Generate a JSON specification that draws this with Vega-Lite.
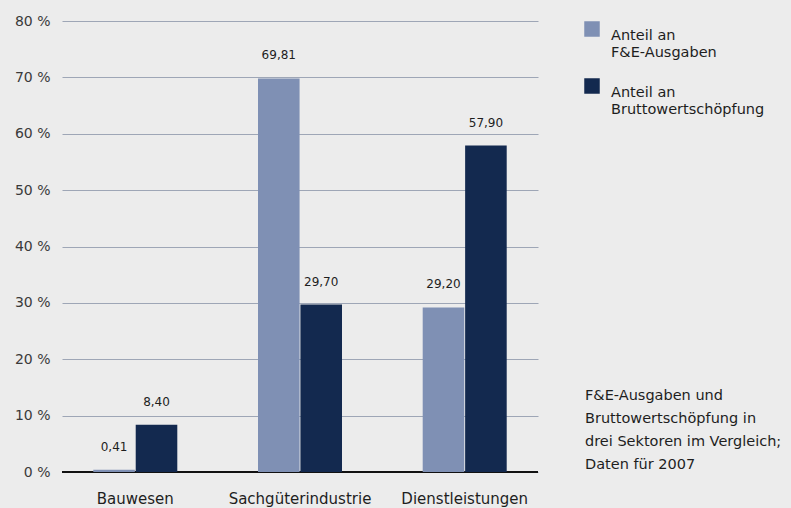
{
  "$schema": "https://vega.github.io/schema/vega-lite/v6.json",
  "width": 476,
  "height": 451,
  "autosize": {"type": "none"},
  "padding": {"left": 62, "top": 21, "right": 253, "bottom": 36},
  "background": "#ececec",
  "title": {
    "text": ["F&E-Ausgaben und", "Bruttowertschöpfung in", "drei Sektoren im Vergleich;", "Daten für 2007"],
    "orient": "top",
    "anchor": "start",
    "frame": "group",
    "align": "left",
    "baseline": "top",
    "offset": 0,
    "dx": 523,
    "dy": 459,
    "font": "DejaVu Sans",
    "fontSize": 14.5,
    "fontWeight": "normal",
    "color": "#1e1e1e",
    "lineHeight": 23.3
  },
  "data": {
    "values": [
      {"sector": "Bauwesen", "series": "Anteil an F&E-Ausgaben", "value": 0.41},
      {"sector": "Bauwesen", "series": "Anteil an Bruttowertschöpfung", "value": 8.40},
      {"sector": "Sachgüterindustrie", "series": "Anteil an F&E-Ausgaben", "value": 69.81},
      {"sector": "Sachgüterindustrie", "series": "Anteil an Bruttowertschöpfung", "value": 29.70},
      {"sector": "Dienstleistungen", "series": "Anteil an F&E-Ausgaben", "value": 29.20},
      {"sector": "Dienstleistungen", "series": "Anteil an Bruttowertschöpfung", "value": 57.90}
    ]
  },
  "encoding": {
    "x": {
      "field": "sector",
      "type": "nominal",
      "sort": ["Bauwesen", "Sachgüterindustrie", "Dienstleistungen"],
      "scale": {"paddingInner": 0.49, "paddingOuter": 0.19},
      "axis": {
        "title": null,
        "domain": false,
        "ticks": false,
        "grid": false,
        "labelAngle": 0,
        "labelFont": "DejaVu Sans",
        "labelFontSize": 15,
        "labelColor": "#1e1e1e",
        "labelPadding": 19
      }
    },
    "xOffset": {
      "field": "series",
      "type": "nominal",
      "sort": ["Anteil an F&E-Ausgaben", "Anteil an Bruttowertschöpfung"],
      "scale": {"paddingInner": 0.02}
    }
  },
  "layer": [
    {
      "mark": {"type": "rule", "color": "#111111", "strokeWidth": 2},
      "encoding": {
        "x": null,
        "xOffset": null,
        "y": {"datum": 0, "type": "quantitative"}
      }
    },
    {
      "mark": {"type": "bar"},
      "encoding": {
        "y": {
          "field": "value",
          "type": "quantitative",
          "scale": {"domain": [0, 80]},
          "axis": {
            "title": null,
            "values": [0, 10, 20, 30, 40, 50, 60, 70, 80],
            "grid": true,
            "domain": false,
            "ticks": false,
            "labelExpr": "datum.value + ' %'",
            "labelFont": "DejaVu Sans",
            "labelFontSize": 14,
            "labelColor": "#3a3a3a",
            "labelPadding": 12,
            "gridColor": "#9ea6b6",
            "gridWidth": 1
          }
        },
        "color": {
          "field": "series",
          "type": "nominal",
          "scale": {
            "domain": ["Anteil an F&E-Ausgaben", "Anteil an Bruttowertschöpfung"],
            "range": ["#7f90b4", "#13294f"]
          },
          "legend": {
            "title": null,
            "orient": "right",
            "offset": 46,
            "padding": 0,
            "symbolType": "square",
            "symbolSize": 240,
            "symbolStrokeWidth": 0,
            "labelExpr": "['Anteil an', slice(datum.label, 10)]",
            "labelFont": "DejaVu Sans",
            "labelFontSize": 14.5,
            "labelLineHeight": 21,
            "labelColor": "#1e1e1e",
            "labelBaseline": "top",
            "labelOffset": 11,
            "labelLimit": 300,
            "rowPadding": 19
          }
        }
      }
    },
    {
      "mark": {"type": "text", "baseline": "middle", "dy": -23, "font": "DejaVu Sans", "fontSize": 12, "color": "#1e1e1e"},
      "encoding": {
        "y": {"field": "value", "type": "quantitative"},
        "text": {"field": "value", "type": "quantitative", "format": ".2f"}
      }
    }
  ],
  "config": {
    "view": {"stroke": null},
    "locale": {
      "number": {"decimal": ",", "thousands": ".", "grouping": [3], "currency": ["", " €"]}
    }
  }
}
